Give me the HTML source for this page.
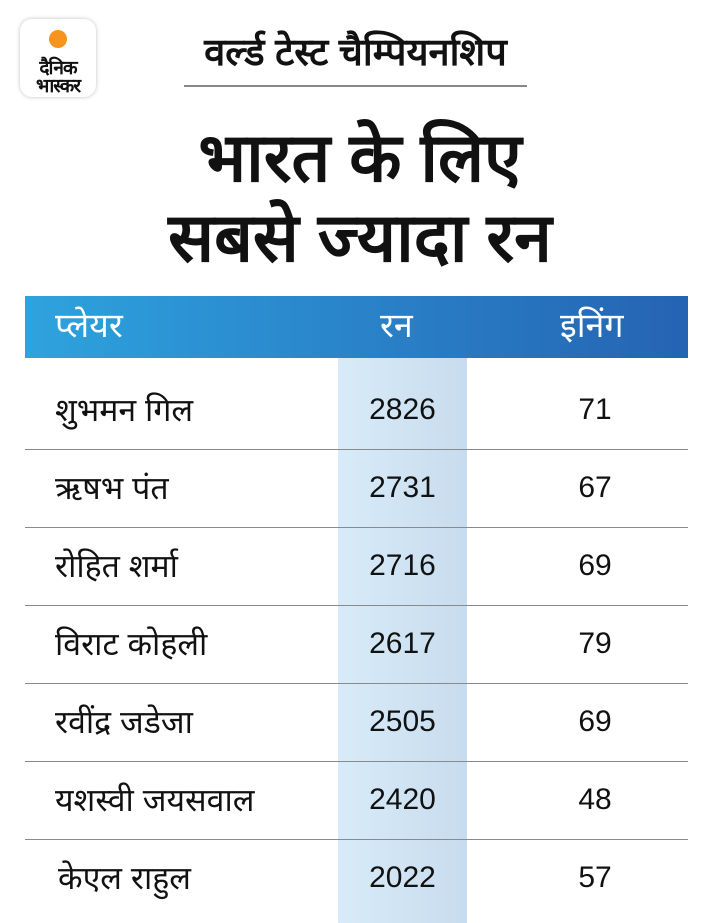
<!DOCTYPE html>
<html><head><meta charset="utf-8"><style>
*{margin:0;padding:0;box-sizing:border-box}
body{width:720px;height:923px;background:#fff;position:relative;overflow:hidden;font-family:"Liberation Sans",sans-serif;color:#111}
.logo{position:absolute;left:20px;top:19px;width:76px;height:78px;border-radius:12px;background:#fff;box-shadow:0 0 4px rgba(0,0,0,.25)}
.sun{position:absolute;width:18px;height:18px;border-radius:50%;background:#f7941d}
.lt{position:absolute;left:0;width:76px;text-align:center;font-weight:bold;font-size:19px;line-height:19px;color:#111;letter-spacing:-1px}
.sub{position:absolute;left:164px;width:383px;top:28px;text-align:center;font-size:38px;font-weight:bold;line-height:50px}
.subl{position:absolute;left:184px;width:343px;top:85px;height:2px;background:#888}
.title{position:absolute;left:0;width:720px;text-align:center;font-size:68px;font-weight:bold;line-height:80px;top:118px}
.head{position:absolute;left:25px;top:296px;width:663px;height:62px;background:linear-gradient(90deg,#2ea3de,#2563b3)}
.head div{position:absolute;top:0;line-height:60px;color:#fff;font-size:34px}
.col{position:absolute;left:338px;top:358px;width:129px;height:565px;background:linear-gradient(90deg,#d8ebf8,#c8dcef)}
.line{position:absolute;left:25px;width:663px;height:1px;background:#8a8a8a}
.row{position:absolute;left:0;width:720px;height:78px;font-size:30px;line-height:78px}
.row .n{position:absolute;left:55px;font-size:32px}
.row .r{position:absolute;left:338px;width:129px;text-align:center}
.row .i{position:absolute;left:530px;width:130px;text-align:center}
</style></head><body>
<div class="logo"><div class="sun" style="left:29px;top:11px"></div><div class="lt" style="top:40px">दैनिक</div><div class="lt" style="top:58px">भास्कर</div></div>
<div class="sub">वर्ल्ड टेस्ट चैम्पियनशिप</div>
<div class="subl"></div>
<div class="title">भारत के लिए<br>सबसे ज्यादा रन</div>
<div class="head"><div style="left:30px">प्लेयर</div><div style="left:355px">रन</div><div style="left:535px">इनिंग</div></div>
<div class="col"></div>
<div class="line" style="top:449px"></div>
<div class="line" style="top:527px"></div>
<div class="line" style="top:605px"></div>
<div class="line" style="top:683px"></div>
<div class="line" style="top:761px"></div>
<div class="line" style="top:839px"></div>
<div class="row" style="top:371px"><span class="n">शुभमन गिल</span><span class="r">2826</span><span class="i">71</span></div>
<div class="row" style="top:449px"><span class="n">ऋषभ पंत</span><span class="r">2731</span><span class="i">67</span></div>
<div class="row" style="top:527px"><span class="n">रोहित शर्मा</span><span class="r">2716</span><span class="i">69</span></div>
<div class="row" style="top:605px"><span class="n">विराट कोहली</span><span class="r">2617</span><span class="i">79</span></div>
<div class="row" style="top:683px"><span class="n">रवींद्र जडेजा</span><span class="r">2505</span><span class="i">69</span></div>
<div class="row" style="top:761px"><span class="n">यशस्वी जयसवाल</span><span class="r">2420</span><span class="i">48</span></div>
<div class="row" style="top:839px"><span class="n" style="left:58px">केएल राहुल</span><span class="r">2022</span><span class="i">57</span></div>
</body></html>
